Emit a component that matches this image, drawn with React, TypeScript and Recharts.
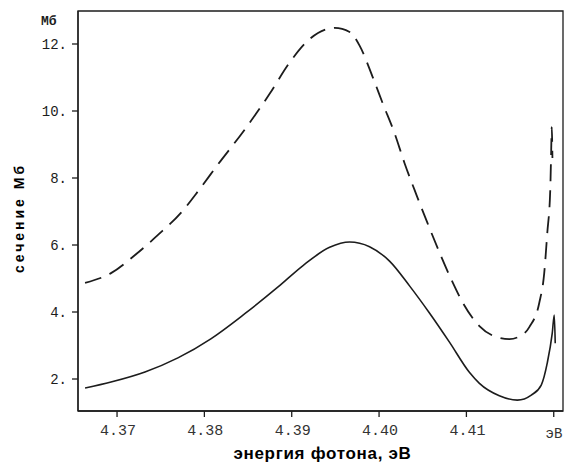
import React from 'react';
import { LineChart, Line, XAxis, YAxis, ReferenceArea } from 'recharts';

const xTicks = [4.37, 4.38, 4.39, 4.4, 4.41, 4.42];
const xTickLabels = ['4.37', '4.38', '4.39', '4.40', '4.41', 'эВ'];
const yTicks = [2, 4, 6, 8, 10, 12];
const yTickLabels = ['2.', '4.', '6.', '8.', '10.', '12.'];
const xDomain = [4.36553, 4.42106];
const yDomain = [1.045, 12.985];

// dashed curve: [energy, cross-section]
const dashedE = [4.36634, 4.36931, 4.37206, 4.37469, 4.37731, 4.37949, 4.38154, 4.38463, 4.38749, 4.38977, 4.39206, 4.39491, 4.39663, 4.39777, 4.39926, 4.4004, 4.40177, 4.40291, 4.40429, 4.40554, 4.40691, 4.40829, 4.40954, 4.41149, 4.41297, 4.41491, 4.41583, 4.4172, 4.41834, 4.41891, 4.41926, 4.4196, 4.41971, 4.41977, 4.41985];
const dashedV = [4.87, 5.16, 5.7, 6.3, 6.96, 7.68, 8.4, 9.45, 10.52, 11.45, 12.15, 12.48, 12.36, 11.95, 11.02, 10.24, 9.34, 8.45, 7.49, 6.66, 5.78, 4.96, 4.3, 3.58, 3.3, 3.19, 3.24, 3.55, 4.27, 5.16, 6.36, 7.64, 8.84, 9.52, 8.6];

// solid curve
const solidE = [4.36634, 4.36931, 4.3732, 4.37697, 4.38074, 4.38463, 4.3884, 4.39126, 4.39434, 4.39663, 4.39891, 4.4012, 4.40349, 4.40577, 4.40806, 4.41034, 4.41149, 4.41377, 4.41583, 4.41743, 4.41857, 4.41926, 4.41983, 4.42006, 4.42017];
const solidV = [1.73, 1.91, 2.21, 2.63, 3.2, 3.95, 4.74, 5.38, 5.93, 6.09, 5.95, 5.52, 4.78, 3.97, 3.1, 2.2, 1.87, 1.5, 1.37, 1.52, 1.82, 2.48, 3.37, 3.91, 3.07];

const dashedData = dashedE.map((e, i) => ({ e, v: dashedV[i] }));
const solidData = solidE.map((e, i) => ({ e, v: solidV[i] }));

const INK = '#1c1c1c';
const MONO = '"Liberation Mono", "DejaVu Sans Mono", monospace';
const SANS = '"Liberation Sans", Arial, sans-serif';

const XTick = (props: any) => {
  const { x, y, payload } = props;
  const idx = xTicks.findIndex((t) => Math.abs(t - payload.value) < 1e-6);
  const label = idx >= 0 ? xTickLabels[idx] : '';
  const isUnit = label === 'эВ';
  return (
    <text
      x={x + (isUnit ? 2 : 1)}
      y={y + (isUnit ? 19 : 16)}
      textAnchor="middle"
      fontFamily={MONO}
      fontSize={isUnit ? 14 : 15}
      fill="#333"
    >
      {label}
    </text>
  );
};

const YTick = (props: any) => {
  const { x, y, payload } = props;
  const idx = yTicks.findIndex((t) => Math.abs(t - payload.value) < 1e-6);
  const label = idx >= 0 ? yTickLabels[idx] : '';
  return (
    <text x={x - 3} y={y + 5} textAnchor="end" fontFamily={MONO} fontSize={14} fill={INK}>
      {label}
    </text>
  );
};

export default function App() {
  return (
    <div style={{ position: 'absolute', left: 0, top: 0, width: 566, height: 464, background: '#fff' }}>
      <LineChart width={566} height={464} margin={{ top: 11, right: 3, bottom: 23, left: 18 }}>
        <XAxis
          type="number"
          dataKey="e"
          domain={xDomain}
          ticks={xTicks}
          allowDataOverflow
          tickSize={6}
          height={30}
          axisLine={{ stroke: INK, strokeWidth: 1.3 }}
          tickLine={{ stroke: INK, strokeWidth: 1.3 }}
          tick={<XTick />}
          label={{
            content: (p: any) => {
              const vb = p.viewBox;
              return (
                <text
                  x={vb.x + vb.width / 2 + 2}
                  y={vb.y + 48}
                  textAnchor="middle"
                  fontFamily={SANS}
                  fontWeight="bold"
                  fontSize={17}
                  letterSpacing={0.7}
                  fill="#000"
                >
                  энергия фотона, эВ
                </text>
              );
            },
          }}
        />
        <YAxis
          type="number"
          dataKey="v"
          domain={yDomain}
          ticks={yTicks}
          allowDataOverflow
          width={60}
          tickSize={6}
          axisLine={{ stroke: INK, strokeWidth: 1.3 }}
          tickLine={{ stroke: INK, strokeWidth: 1.3 }}
          tick={<YTick />}
          label={{
            content: (p: any) => {
              const vb = p.viewBox;
              const cx = 19;
              const cy = 218;
              return (
                <g>
                  <text
                    x={cx}
                    y={cy}
                    transform={`rotate(-90 ${cx} ${cy})`}
                    textAnchor="middle"
                    dominantBaseline="central"
                    fontFamily={SANS}
                    fontWeight="bold"
                    fontSize={14}
                    letterSpacing={3}
                    fill="#000"
                  >
                    сечение Мб
                  </text>
                  <text x={vb.x + 23} y={25} fontFamily={MONO} fontWeight="bold" fontSize={13} fill={INK}>
                    Мб
                  </text>
                </g>
              );
            },
          }}
        />
        <ReferenceArea
          x1={xDomain[0]}
          x2={xDomain[1]}
          y1={yDomain[0]}
          y2={yDomain[1]}
          fill="none"
          fillOpacity={0}
          stroke={INK}
          strokeWidth={1.3}
          ifOverflow="visible"
        />
        <Line
          data={dashedData}
          dataKey="v"
          type="monotone"
          stroke={INK}
          strokeWidth={1.8}
          strokeDasharray="17 9"
          dot={false}
          activeDot={false}
          isAnimationActive={false}
        />
        <Line
          data={solidData}
          dataKey="v"
          type="monotone"
          stroke={INK}
          strokeWidth={1.6}
          dot={false}
          activeDot={false}
          isAnimationActive={false}
        />
      </LineChart>
    </div>
  );
}
